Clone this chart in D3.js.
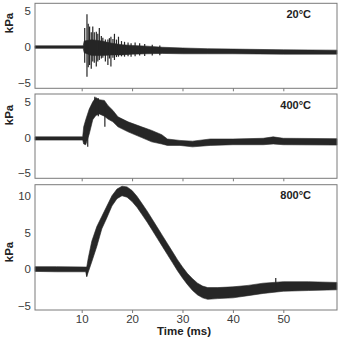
<!DOCTYPE html>
<html>
<head>
<meta charset="utf-8">
<script src="https://cdn.jsdelivr.net/npm/d3@7"></script>
<style>
  body { margin: 0; background: #fff; }
  svg { display: block; font-family: "Liberation Sans", Arial, sans-serif; }
</style>
</head>
<body>
<script>
// envelope of each trace: [time ms, low kPa, high kPa]
const trace20 = [
  [0.74, -0.2, 0.15], [10.3, -0.2, 0.15], [10.5, -0.8, 0.8], [12, -1.2, 1.0],
  [14, -1.2, 0.8], [16, -1.1, 0.5], [18, -1.1, 0.3], [20, -1.0, 0.2],
  [23, -0.95, 0.1], [26, -0.9, -0.05], [30, -0.95, -0.15], [35, -0.95, -0.25],
  [40, -0.95, -0.3], [50, -1.0, -0.4], [60.65, -1.0, -0.45]
];
const spikes20 = [
  [10.6, -2.2, 2.6], [11.05, -4.1, 4.5], [11.3, -2.8, 3.2], [11.57, -2.5, 2.8],
  [11.9, -3.0, 2.0], [12.2, -2.0, 2.8], [12.5, -2.2, 2.0], [12.9, -2.7, 2.1],
  [13.2, -2.0, 1.8], [13.5, -1.8, 2.6], [13.9, -1.6, 1.5], [14.2, -1.5, 1.25],
  [14.7, -2.0, 1.0], [15.2, -2.5, 1.0], [15.5, -1.6, 1.2], [15.8, -2.7, 1.4],
  [16.2, -1.5, 1.1], [16.5, -1.8, 1.8], [16.9, -1.4, 1.0], [17.3, -1.35, 1.4],
  [17.9, -1.3, 0.8], [18.5, -1.35, 0.7], [19.2, -1.3, 0.6], [19.8, -1.35, 0.5],
  [20.6, -1.3, 0.6], [21.5, -1.2, 0.5], [22.5, -1.25, 0.4], [24, -1.2, 0.3],
  [25.5, -1.15, 0.2]
];

const trace400 = [
  [0.74, -0.35, 0.1], [10.2, -0.35, 0.1], [10.4, -0.9, 1.5], [10.8, -1.0, 2.5],
  [11.5, 0.5, 4.0], [12.2, 2.5, 5.0], [12.8, 3.1, 5.6], [13.5, 3.3, 5.3],
  [14.5, 3.0, 5.2], [15.2, 2.6, 4.5], [16.2, 2.2, 3.8], [17.2, 1.5, 2.9],
  [19.2, 0.8, 2.2], [21.9, 0.0, 1.5], [23.9, -0.6, 1.0], [25.9, -0.9, 0.4],
  [27, -1.1, -0.2], [29.5, -1.1, -0.4], [32, -1.3, -0.5], [35.5, -1.1, -0.2],
  [40, -1.0, -0.2], [46, -1.0, -0.1], [48, -0.9, 0.1], [50, -1.0, -0.1],
  [60.65, -1.05, -0.15]
];
const spikes400 = [[11.2, -1.3, 3.0], [12.6, 3.0, 5.7], [13.3, 3.0, 5.5], [14.6, 1.5, 4.5]];

const trace800 = [
  [0.74, -0.3, 0.35], [5, -0.35, 0.35], [10.8, -0.35, 0.3], [11.0, -1.0, 0.3],
  [11.3, -0.4, 1.5], [12, 1.0, 3.8], [13, 3.1, 5.8], [14, 5.5, 7.2],
  [15, 7.0, 8.6], [16, 8.6, 10.0], [17, 9.6, 10.9], [18, 10.0, 11.3],
  [19, 9.8, 11.2], [20, 9.2, 10.7], [21, 8.4, 9.9], [22, 7.4, 8.9],
  [23, 6.4, 7.9], [24, 5.3, 6.8], [25, 4.2, 5.7], [26, 3.1, 4.6],
  [27, 2.0, 3.5], [28, 0.9, 2.4], [29, -0.2, 1.3], [30, -1.2, 0.3],
  [31, -2.1, -0.6], [32, -2.9, -1.3], [33, -3.5, -1.9], [34, -3.9, -2.3],
  [35, -4.1, -2.5], [37, -4.0, -2.5], [40, -3.9, -2.4], [43, -3.6, -2.2],
  [46, -3.3, -1.9], [50, -3.0, -1.7], [55, -2.9, -1.7], [60.65, -2.8, -1.8]
];
const spikes800 = [[11.0, -1.0, 0.3], [48.5, -2.6, -1.2]];

const labels = ["20°C", "400°C", "800°C"];
const yTicks = [[-5, 0, 5], [-5, 0, 5], [-5, 0, 5, 10]];
const xTicks = [10, 20, 30, 40, 50];

const W = 342, H = 338;
const left = 35, right = 337;
// panel pixel boxes and value ranges
const panels = [
  { top: 3.3, bottom: 88.3, dom: [-5.7, 6.0], data: trace20, spikes: spikes20, kpaY: 23, labY: 17.5 },
  { top: 94, bottom: 178.3, dom: [-5.7, 6.1], data: trace400, spikes: spikes400, kpaY: 115, labY: 108.5 },
  { top: 184.7, bottom: 310, dom: [-5.55, 11.5], data: trace800, spikes: spikes800, kpaY: 252, labY: 198.5 }
];

const svg = d3.select("body").append("svg")
  .attr("width", W).attr("height", H);

const x = d3.scaleLinear().domain([0.74, 60.65]).range([left, right]);

panels.forEach((p, i) => {
  const y = d3.scaleLinear().domain(p.dom).range([p.bottom, p.top]);
  const g = svg.append("g");

  // trace band
  g.append("path")
    .datum(p.data)
    .attr("d", d3.area().x(d => x(d[0])).y0(d => y(d[1])).y1(d => y(d[2])))
    .attr("fill", "#262626")
    .attr("stroke", "#262626")
    .attr("stroke-width", 0.6);

  g.selectAll("line.spk")
    .data(p.spikes)
    .join("line")
    .attr("class", "spk")
    .attr("x1", d => x(d[0])).attr("x2", d => x(d[0]))
    .attr("y1", d => y(d[1])).attr("y2", d => y(d[2]))
    .attr("stroke", "#262626")
    .attr("stroke-width", 1.2);

  // frame
  g.append("rect")
    .attr("x", left).attr("y", p.top)
    .attr("width", right - left).attr("height", p.bottom - p.top)
    .attr("fill", "none").attr("stroke", "#7a7a7a").attr("stroke-width", 1);

  // y axis labels
  const ya = g.append("g")
    .attr("transform", `translate(${left},0)`)
    .call(d3.axisLeft(y).tickValues(yTicks[i]).tickSize(0).tickPadding(4));
  ya.select(".domain").remove();
  ya.selectAll("text").attr("font-size", 11.5).attr("fill", "#3a3a3a")
    .attr("font-family", "Liberation Sans, Arial, sans-serif");

  // x axis ticks
  const xa = g.append("g")
    .attr("transform", `translate(0,${p.bottom})`)
    .call(d3.axisBottom(x).tickValues(xTicks).tickSize(3).tickPadding(2));
  xa.select(".domain").remove();
  xa.selectAll("line").attr("stroke", "#7a7a7a");
  xa.selectAll("text").attr("font-size", 11.5).attr("fill", "#3a3a3a")
    .attr("font-family", "Liberation Sans, Arial, sans-serif")
    .style("display", i === 2 ? null : "none");

  g.append("text")
    .attr("transform", `translate(13,${p.kpaY}) rotate(-90)`)
    .attr("text-anchor", "middle")
    .attr("font-size", 11.5).attr("font-weight", "bold").attr("fill", "#222")
    .text("kPa");

  g.append("text")
    .attr("x", 311).attr("y", p.labY)
    .attr("text-anchor", "end")
    .attr("font-size", 11).attr("font-weight", "bold").attr("fill", "#222")
    .text(labels[i]);
});

svg.append("text")
  .attr("x", (left + right) / 2 - 2).attr("y", 335)
  .attr("text-anchor", "middle")
  .attr("font-size", 11.5).attr("font-weight", "bold").attr("fill", "#222")
  .text("Time (ms)");
</script>
</body>
</html>
